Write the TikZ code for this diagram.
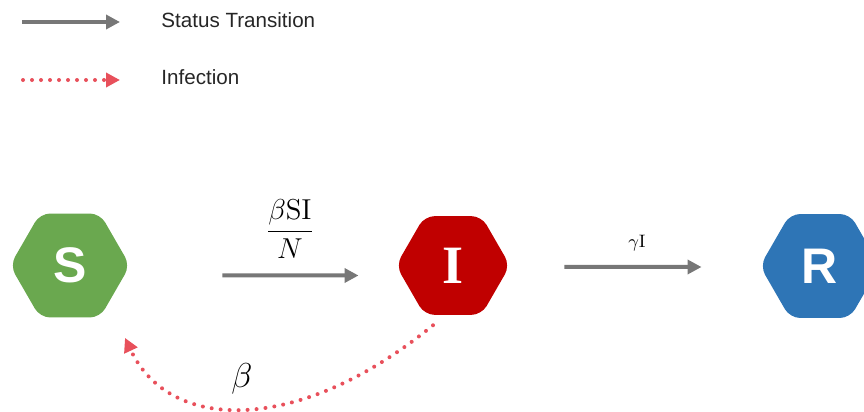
\documentclass[tikz,border=0pt]{standalone}
\usepackage[no-math]{fontspec}
\setmainfont{Liberation Sans}
\newfontfamily\serifletter{Liberation Serif}
\usetikzlibrary{arrows.meta,shapes.geometric,calc}

\definecolor{susgreen}{HTML}{6AA84F}
\definecolor{infred}{HTML}{C00000}
\definecolor{recblue}{HTML}{2E75B6}
\definecolor{flowgray}{HTML}{777777}
\definecolor{dotred}{HTML}{E8505B}

\begin{document}
\begin{tikzpicture}[x=0.5pt, y=-0.5pt,
    compartment/.style={regular polygon, regular polygon sides=6, minimum size=60pt,
        inner sep=0pt, rounded corners=5pt, text=white},
    transition/.style={line width=2pt, draw=flowgray, -{Triangle[length=7pt, width=7pt]}},
    infection/.style={line width=2pt, draw=dotred, line cap=round,
        dash pattern=on 0pt off 4.5pt, -{Triangle[length=7pt, width=7pt]}},
    legendtext/.style={anchor=west, inner sep=0pt, font=\fontsize{10.3}{12}\selectfont, text=black!85}]

    % Canvas
    \path[use as bounding box] (0,0) rectangle (864,412);
    \clip (0,0) rectangle (864,412);

    % Legend
    \coordinate (tstart) at (22,22);
    \coordinate (tend) at (120,22);
    \coordinate (istart) at (23,80);
    \coordinate (iend) at (120,80);
    \draw[transition] (tstart) -- (tend);
    \draw[infection] (istart) -- (iend);
    \node[legendtext] (legtrans) at (161,20) {Status Transition};
    \node[legendtext] (leginf) at (161,77) {Infection};

    % Compartments (S, I, R)
    \node[compartment, fill=susgreen, font=\fontsize{25}{30}\selectfont\bfseries] (S) at (70,265.5) {S};
    \node[compartment, fill=infred, minimum size=57pt, font=\fontsize{27}{32}\selectfont\serifletter\bfseries] (I) at (453,265.5) {I};
    \node[compartment, fill=recblue, font=\fontsize{25}{30}\selectfont\bfseries] (R) at (820,266) {R};

    % Status transitions
    \draw[transition, shorten <=46pt, shorten >=18.5pt] ($(S.east)+(0,10)$) -- ($(I.west)+(0,10)$);
    \draw[transition, shorten <=27pt, shorten >=29pt] ($(I.east)+(0,1.5)$) -- ($(R.west)+(0,1)$);

    % Rates
    \node[font=\fontsize{13.5}{16}\selectfont] (rateSI) at (290,229) {$\displaystyle\frac{\beta\mathrm{SI}}{N}$};
    \node[font=\fontsize{9.5}{11}\selectfont] (rateIR) at (637,243) {$\gamma\mathrm{I}$};

    % Infection feedback
    \draw[infection] ($(I.south)+(-20,10)$) .. controls +(-133,109) and +(45,96) .. ($(S.south)+(55,20)$);
    \node[font=\fontsize{17}{20}\selectfont] (beta) at (242,379) {$\beta$};
\end{tikzpicture}
\end{document}
